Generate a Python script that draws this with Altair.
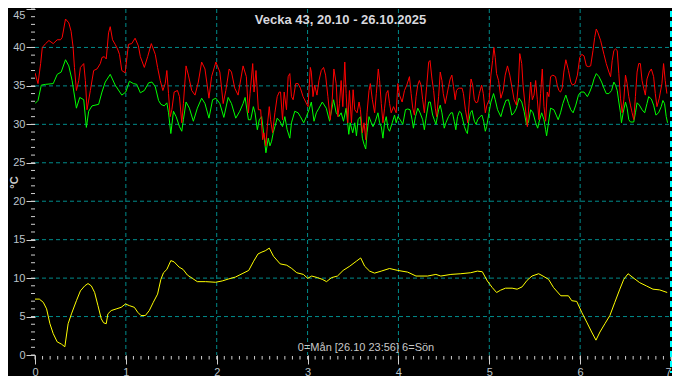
import altair as alt
import pandas as pd

# ---------------- data (hours from Monday 00:00, temperature in degC) ----------------
red_hours = [0.0, 0.79, 1.49, 1.93, 2.8, 3.68, 4.82, 5.87, 6.74, 7.18, 8.06, 8.93, 9.54, 10.07, 10.42, 10.94,
             11.56, 11.99, 12.87, 13.31, 13.74, 14.62, 15.5, 16.37, 17.25, 17.69, 18.3, 18.82, 19.43, 19.87,
             20.48, 21.18, 21.8, 22.32, 22.93, 23.81, 24.69, 25.56, 26.44, 27.31,
             27.83, 28.88, 29.76, 30.72, 31.77, 32.38, 33.08, 33.78, 34.39, 34.83, 35.27, 35.71, 36.15, 36.76,
             37.63, 38.16, 38.77, 39.2, 39.9, 40.52, 41.39, 42.27, 43.14, 44.02, 44.9, 45.95, 46.64, 47.78,
             48.83, 49.71, 50.41, 51.28, 51.9, 52.77, 53.65, 54.09, 54.96, 55.83,
             56.37, 56.81, 57.51, 57.86, 58.38, 59.0, 59.61, 60.13, 60.48, 61.0, 61.36, 61.88, 62.23, 62.76,
             63.37, 63.98, 64.51, 64.86, 65.38, 65.82, 66.43, 66.87, 67.31, 67.75, 68.18, 68.88, 69.5, 70.11,
             70.81, 71.51, 72.12, 72.73, 72.99, 73.43, 73.87, 74.48, 75.01, 75.62, 76.23, 76.76, 77.37, 77.99,
             78.51, 78.95, 79.56, 80.0, 80.43, 80.87, 81.31, 81.83, 82.18, 82.62, 83.06, 83.59,
             84.03, 84.47, 85.08, 85.6, 85.96, 86.48, 86.92, 87.36, 87.71, 88.23, 88.58, 89.11, 89.72, 90.16,
             90.68, 91.03, 91.47, 91.91, 92.34, 92.78, 93.22, 93.66, 94.09, 94.71, 95.41, 95.85, 96.28, 96.98,
             97.6, 98.21, 98.91, 99.35, 99.78, 100.22, 100.66, 101.1, 101.53, 101.97, 102.41, 102.85, 103.46,
             103.99, 104.34, 104.86, 105.3, 105.74, 106.09, 106.61, 107.05, 107.49, 107.84, 108.36, 108.8,
             109.23, 109.67, 110.11, 110.55, 110.99, 111.34, 111.86,
             112.12, 112.82, 113.17, 113.7, 114.31, 114.75, 115.18, 115.62, 116.06, 116.5, 116.93, 117.37,
             117.98, 118.42, 118.95, 119.38, 119.99, 120.43, 120.87, 121.22, 121.57, 121.92, 122.45, 123.06,
             123.67, 124.2, 124.81, 125.42, 125.95, 126.56, 127.17, 127.7, 128.05, 128.57, 128.92, 129.45,
             130.06, 130.5, 130.93, 131.37, 131.81, 132.25, 132.69, 133.12, 133.56, 134.0, 134.44, 134.88,
             135.31, 135.75, 136.19, 136.8, 137.5, 137.94, 138.38, 138.82, 139.25, 139.69, 140.22,
             140.92, 141.53, 141.97, 142.67, 143.28, 143.9, 144.42, 145.03, 145.65, 146.17, 146.78, 147.4,
             147.84, 148.27, 148.71, 149.41, 149.85, 150.29, 150.9, 151.6, 152.04, 152.47, 152.91, 153.35,
             153.79, 154.22, 154.66, 155.1, 155.54, 155.98, 156.41, 156.85, 157.29, 157.73, 158.16, 158.6,
             159.04, 159.48, 159.91, 160.35, 160.79, 161.22, 161.66, 162.27, 162.8, 163.41, 163.85, 164.29,
             164.9, 165.6, 166.04, 166.47, 166.92]
red_temps = [36.7, 35.3, 37.9, 40.0, 40.5, 40.9, 40.5, 41.0, 41.0, 41.3, 43.7, 43.2, 42.1, 40.0, 37.4, 34.4,
             35.7, 37.4, 37.9, 35.7, 31.9, 34.4, 37.0, 37.2, 37.9, 38.7, 38.8, 38.5, 41.9, 42.7,
             41.0, 40.4, 39.8, 39.1, 37.0, 36.7, 40.4, 40.5, 41.2, 40.2,
             38.8, 37.4, 38.8, 40.5, 39.1, 37.4, 35.7, 34.4, 35.3, 37.0, 34.0, 31.0, 31.9, 34.2,
             34.4, 33.6, 30.2, 32.7, 37.6, 36.4, 34.4, 33.8, 35.5, 38.1, 37.2, 33.4, 36.2, 38.1,
             36.8, 32.7, 34.4, 37.2, 36.8, 34.7, 33.8, 35.1, 37.6, 36.2,
             31.5, 34.0, 37.9, 34.2, 37.0, 31.9, 31.9, 28.0, 28.9, 27.2, 29.7, 32.3, 30.6, 28.9,
             31.5, 33.6, 34.2, 34.2, 30.6, 34.2, 31.9, 36.2, 36.6, 33.6, 33.2, 35.3, 35.3, 34.7,
             33.6, 32.9, 32.3, 37.4, 36.8, 33.6, 35.1, 33.8, 35.7, 37.0, 37.4, 36.4, 33.6, 30.6,
             33.2, 37.2, 35.3, 31.0, 32.7, 35.7, 32.3, 38.1, 34.0, 30.2, 34.4, 30.2,
             34.5, 31.9, 31.5, 32.9, 31.9, 28.9, 30.2, 28.0, 31.5, 34.4, 35.3, 33.2, 31.5, 34.0,
             37.2, 35.7, 32.7, 30.2, 32.1, 34.0, 34.4, 32.7, 31.5, 32.3, 31.5, 35.3, 33.8, 32.9,
             34.4, 35.1, 36.2, 34.0, 32.1, 31.2, 33.6, 35.1, 35.7, 35.1, 33.2, 31.5, 34.9,
             38.1, 38.3, 35.9, 34.4, 32.1, 31.0, 33.6, 36.8, 35.7, 34.0, 32.7, 33.8,
             34.9, 35.9, 36.4, 34.9, 33.2, 34.4, 34.7,
             34.7, 34.7, 34.0, 31.9, 30.2, 33.2, 35.9, 35.1, 33.2, 32.8, 32.9, 34.0,
             35.1, 34.0, 31.5, 32.5, 33.2, 36.4, 38.3, 40.0, 38.7, 36.6, 35.7, 33.4,
             34.4, 36.4, 37.6, 36.4, 34.9, 33.2, 32.5, 35.3, 39.2, 37.9, 35.1, 32.5,
             29.7, 32.7, 35.5, 33.2, 33.8, 35.7, 33.2, 30.6, 34.0, 37.2, 32.3, 30.4,
             34.2, 33.6, 36.2, 36.4, 36.2, 35.1, 34.4, 34.2, 34.7, 36.8, 38.4,
             37.0, 35.5, 35.1, 35.3, 36.4, 38.7, 39.1, 38.9, 37.6, 37.5, 37.6, 39.6,
             41.3, 42.4, 41.9, 40.9, 40.0, 39.1, 37.9, 36.8, 36.2, 38.3, 39.6, 39.8,
             39.6, 36.6, 33.4, 31.5, 33.2, 36.4, 35.3, 33.6, 32.5, 31.5, 30.6, 33.6,
             36.8, 37.9, 37.9, 35.7, 34.7, 33.8, 35.9, 36.8, 37.2, 36.2, 34.0, 32.3,
             33.4, 35.3, 37.9, 35.7, 34.0]

green_hours = [0.0, 0.79, 1.67, 2.8, 4.82, 5.87, 6.92, 8.06, 8.93, 9.8, 10.94, 11.82, 12.87, 13.57, 14.18,
               15.06, 16.81, 17.69, 18.56, 19.87, 21.18, 22.93, 23.98, 24.94, 25.99, 26.87,
               27.83, 28.88, 30.02, 30.89, 31.77, 32.64, 33.26, 34.13, 34.83, 35.27, 35.88, 36.58, 37.28,
               38.16, 38.77, 39.2, 39.9, 40.78, 41.83, 42.88, 44.02, 44.9, 45.95, 46.91, 47.78, 48.83,
               49.88, 51.02, 51.9, 53.03, 54.09, 54.96, 55.5,
               56.37, 56.98, 57.68, 58.12, 58.73, 59.26, 59.87, 60.48, 61.0, 61.62, 62.06, 62.5, 62.93,
               63.37, 63.98, 64.68, 65.38, 66.0, 66.61, 67.31, 67.75, 68.62, 69.5, 70.11, 70.98, 71.68,
               72.38, 72.99, 73.7, 74.31, 75.01, 75.89, 76.93, 77.81, 78.86, 79.56, 80.26, 80.87, 81.49,
               82.18, 82.89, 83.24, 83.93,
               84.47, 84.91, 85.34, 85.96, 86.48, 86.92, 87.36, 87.71, 88.23, 88.84, 89.28, 89.9, 90.59,
               91.03, 91.47, 91.91, 92.34, 92.78, 93.22, 93.66, 94.36, 94.97, 95.41, 95.85, 96.46, 97.16,
               97.86, 98.47, 99.08, 99.61, 99.96, 100.49, 101.1, 101.71, 102.41, 102.85, 103.29, 103.99,
               104.42, 105.04, 105.47, 105.91, 106.61, 107.05, 107.49, 108.1, 108.54, 109.23, 109.85,
               110.29, 110.73, 111.16, 111.6,
               112.12, 112.56, 113.0, 113.43, 113.87, 114.22, 114.57, 115.01, 115.45, 116.06, 116.5,
               116.93, 117.55, 118.07, 118.51, 118.95, 119.3, 119.82, 120.43, 121.13, 121.57, 122.18,
               123.06, 123.67, 124.37, 125.07, 125.42, 125.95, 126.56, 127.17, 127.87, 128.57, 129.19,
               129.8, 130.32, 130.93, 131.55, 132.25, 132.78, 133.3, 133.83, 134.44, 134.88, 135.14,
               135.58, 136.19, 137.07, 137.68, 138.2, 138.82, 139.43, 140.22,
               140.92, 141.53, 142.15, 142.85, 143.55, 144.16, 145.03, 145.91, 146.52, 147.22, 147.66,
               148.27, 148.97, 149.67, 150.29, 150.9, 151.6, 152.3, 152.91, 153.35, 153.79, 154.22,
               154.66, 154.92, 155.36, 155.98, 156.41, 156.85, 157.29, 158.16, 158.6, 159.04, 159.65,
               160.35, 161.05, 161.66, 162.1, 162.8, 163.41, 164.02, 164.72, 165.42, 165.86, 166.3,
               166.74, 167.09]
green_temps = [32.7, 33.1, 35.1, 35.2, 35.3, 36.5, 36.8, 38.4, 37.6, 35.7, 32.1, 33.5, 33.2, 29.6, 31.7,
               32.4, 32.6, 34.2, 35.5, 36.5, 35.1, 33.8, 34.2, 35.6, 35.3, 35.2,
               34.1, 34.4, 35.4, 35.5, 34.9, 33.1, 32.6, 32.4, 32.8, 31.5, 28.8, 31.7, 31.0,
               29.7, 29.1, 30.6, 32.9, 32.1, 30.4, 32.1, 33.4, 32.7, 30.8, 33.2, 33.4, 32.7,
               30.9, 33.5, 32.7, 30.8, 31.7, 32.7, 33.5,
               30.6, 30.6, 32.3, 31.5, 29.3, 30.6, 31.0, 28.5, 26.3, 28.2, 27.2, 27.8, 28.9,
               29.7, 30.8, 30.4, 29.7, 31.0, 29.3, 28.2, 30.2, 31.7, 31.5, 31.0, 30.2, 31.0,
               31.9, 32.9, 30.4, 31.5, 32.1, 32.9, 32.1, 30.4, 33.2, 31.5, 31.0, 31.5, 30.4,
               32.1, 28.7, 30.2, 28.9,
               30.2, 28.5, 30.6, 31.0, 28.2, 27.4, 26.8, 28.9, 31.0, 30.2, 29.7, 30.4, 31.5,
               30.2, 29.7, 28.2, 30.2, 31.0, 29.5, 29.1, 30.2, 31.2, 30.2, 31.0, 30.6, 30.0,
               31.9, 32.0, 31.9, 30.6, 29.5, 31.0, 32.1, 31.5, 30.6, 29.3, 30.8, 32.9,
               32.9, 31.2, 30.6, 30.0, 31.9, 32.5, 31.5, 29.5, 30.2, 31.0, 31.5,
               31.5, 30.4, 29.3, 31.0,
               31.7, 31.5, 30.6, 29.7, 29.1, 28.8, 30.4, 31.5, 31.8, 30.4, 30.0,
               30.6, 31.0, 31.2, 30.4, 29.1, 29.7, 31.2, 32.9, 34.0, 33.2, 31.9,
               31.0, 32.1, 33.1, 33.2, 32.5, 31.2, 31.5, 32.1, 33.4, 32.9, 31.7,
               30.0, 30.2, 31.9, 31.5, 30.2, 29.5, 30.6, 31.5, 30.6, 29.3, 28.5,
               30.0, 32.1, 31.9, 31.2, 30.6, 31.5, 32.7, 33.8,
               32.7, 31.9, 31.5, 32.5, 33.8, 34.2, 34.2, 33.6, 34.2, 35.1, 35.9,
               36.6, 36.2, 35.5, 34.7, 34.0, 34.0, 34.4, 35.5, 35.1, 34.4, 32.9,
               31.5, 30.2, 31.5, 32.9, 32.1, 30.6, 30.3, 30.3, 31.5, 32.8, 32.5,
               31.9, 31.5, 32.7, 33.6, 33.3, 32.5, 31.2, 31.5, 32.3, 33.1, 32.7,
               31.0, 30.2]

yellow_hours = [0.0, 1.14, 2.19, 3.06, 3.94, 4.81, 5.86, 7.0, 7.88, 8.75, 9.63, 10.94, 11.99, 13.13, 14.0,
                14.88, 15.75, 16.63, 17.5, 18.11, 18.82, 19.25, 20.13, 21.44, 22.75, 23.89, 24.94, 26.25,
                27.13, 28.0, 29.14, 30.19, 31.24, 32.38, 33.25, 33.95, 34.83, 35.88, 36.75, 38.07, 39.12,
                40.25, 41.57, 42.88, 45.07, 47.69, 49.44, 51.2, 52.95, 54.7, 56.45, 57.76, 58.9, 59.95,
                60.83, 61.88, 63.0, 64.76, 66.5, 67.83, 69.14, 70.89, 72.03, 73.08, 74.65, 75.88, 77.01,
                78.33, 79.9, 81.39, 83.14, 84.89, 86.03, 87.08, 88.39, 89.7, 91.45, 93.64, 95.83, 98.45,
                100.64, 103.7, 105.89, 107.2, 109.85, 112.48, 115.1, 116.85, 118.16, 119.48, 120.79,
                121.93, 122.98, 124.29, 126.04, 127.35, 128.66, 129.98, 131.29, 133.04, 134.18, 135.66,
                136.98, 138.9, 140.91, 141.79, 143.1, 144.41, 145.73, 147.04, 148.18, 149.23, 150.54,
                151.85, 153.16, 154.48, 155.53, 156.66, 157.98, 159.73, 161.48, 163.23, 164.98, 167.0]
yellow_temps = [7.27, 7.27, 6.85, 6.0, 4.07, 2.78, 1.71, 1.41, 1.07, 4.07, 5.35, 7.06, 8.34, 8.99, 9.29,
                8.99, 8.13, 6.42, 4.71, 4.19, 4.07, 5.35, 5.78, 5.99, 6.2, 6.63, 6.42, 6.2,
                5.56, 5.13, 5.13, 5.78, 6.85, 7.92, 9.84, 10.7, 11.13, 12.28, 12.11, 11.43, 11.13,
                10.4, 9.97, 9.54, 9.54, 9.46, 9.63, 9.9, 10.14, 10.57, 11.0, 12.2, 13.14, 13.39,
                13.56, 13.9, 12.84, 11.85, 11.68, 11.25, 10.7, 10.48, 9.97, 10.27, 10.06, 9.84, 9.54,
                10.06, 10.27, 11.0, 11.55, 12.2, 12.62, 11.55, 10.91, 10.65, 10.91, 11.25, 11.0, 10.78,
                10.27, 10.27, 10.48, 10.27, 10.48, 10.57, 10.7, 10.91, 10.83, 9.63, 8.77,
                8.13, 8.43, 8.69, 8.69, 8.56, 8.86, 9.71, 10.27, 10.57, 10.27, 9.84,
                8.77, 7.7, 7.7, 7.06, 6.97, 5.56, 4.28, 2.99, 1.93, 2.99, 4.07,
                5.13, 6.85, 8.56, 9.84, 10.57, 10.06, 9.41, 8.99, 8.56, 8.47, 8.13]

title_text = "Vecka 43, 20.10 - 26.10.2025"
xlabel_text = "0=Mån [26.10 23:56] 6=Sön"
y_title = "°C"
x_ticks = [0, 1, 2, 3, 4, 5, 6, 7]
y_ticks = [0, 5, 10, 15, 20, 25, 30, 35, 40, 45]
x_grid = [1, 2, 3, 4, 5, 6]
y_grid = [5, 10, 15, 20, 25, 30, 35, 40]
x_minor = [k / 12 for k in range(0, 85)]   # every 2 hours
y_minor = list(range(0, 46))
now_day = [7]

# ---------------- layout ----------------
W, H = 636, 346
FONT = "Liberation Sans"
LABEL_COL = "#BCC4CC"
TICK_COL = "#D0D0D0"
GRID_COL = "#008B8B"

xs = alt.Scale(domain=[0, 7], nice=False, zero=False)
ys = alt.Scale(domain=[0, 45], nice=False, zero=False)

xa = alt.Axis(values=x_ticks, tickSize=9, tickColor=TICK_COL, labelColor=LABEL_COL, labelFont=FONT,
              labelFontSize=11, labelPadding=2, domain=False, grid=False, title=None, labelFlush=False,
              labelAlign={"condition": {"test": "datum.value >= 7", "value": "right"}, "value": "center"},
              format="d")
ya = alt.Axis(values=y_ticks, tickSize=9, tickColor=TICK_COL, labelColor=LABEL_COL, labelFont=FONT,
              labelFontSize=11, labelPadding=1, domain=False, grid=False, title=y_title,
              titleColor="#D0D0D0", titleFont=FONT, titleFontSize=11, titleFontWeight="bold",
              titleX=-21, titleY=H / 2, titleAngle=-90, titleAlign="center", titleBaseline="middle",
              labelFlush=False,
              labelBaseline={"condition": {"test": "datum.value >= 45", "value": "top"}, "value": "middle"},
              format="d")


def series_df(hours, temps, name):
    return pd.DataFrame({"h": hours, "v": temps, "s": name})


def line_layer(df, color):
    return alt.Chart(df).transform_calculate(x="datum.h / 24").mark_line(
        color=color, strokeWidth=1, interpolate="linear", clip=True
    ).encode(
        x=alt.X("x:Q", scale=xs, axis=xa),
        y=alt.Y("v:Q", scale=ys, axis=ya),
    )


hgrid = alt.Chart(pd.DataFrame({"v": y_grid})).mark_rule(
    color=GRID_COL, strokeDash=[4, 3], strokeWidth=1
).encode(y=alt.Y("v:Q", scale=ys, axis=ya), x=alt.value(0), x2=alt.value(W))

vgrid = alt.Chart(pd.DataFrame({"x": x_grid})).mark_rule(
    color=GRID_COL, strokeDash=[4, 3], strokeWidth=1
).encode(x=alt.X("x:Q", scale=xs, axis=xa), y=alt.value(0), y2=alt.value(H))

now_line = alt.Chart(pd.DataFrame({"x": now_day})).mark_rule(
    color="#00FFFF", strokeDash=[6, 4], strokeWidth=2
).encode(x=alt.X("x:Q", scale=xs, axis=xa), y=alt.value(2), y2=alt.value(H + 18))

yminor = alt.Chart(pd.DataFrame({"v": y_minor})).mark_rule(
    color=TICK_COL, strokeWidth=1
).encode(y=alt.Y("v:Q", scale=ys, axis=ya), x=alt.value(-4), x2=alt.value(0))

xminor = alt.Chart(pd.DataFrame({"x": x_minor})).mark_rule(
    color=TICK_COL, strokeWidth=1
).encode(x=alt.X("x:Q", scale=xs, axis=xa), y=alt.value(H + 1), y2=alt.value(H + 4.5))

title_mark = alt.Chart(pd.DataFrame({"t": [title_text]})).mark_text(
    font=FONT, fontSize=13, fontWeight="bold", color="#D8D8DE", align="center", baseline="alphabetic"
).encode(text="t:N", x=alt.value(305.5), y=alt.value(14.5))

xlabel_mark = alt.Chart(pd.DataFrame({"t": [xlabel_text]})).mark_text(
    font=FONT, fontSize=11, color="#C8C8C8", align="center", baseline="alphabetic"
).encode(text="t:N", x=alt.value(331), y=alt.value(H - 4))

yellow = line_layer(series_df(yellow_hours, yellow_temps, "yellow"), "#FFFF00")
green = line_layer(series_df(green_hours, green_temps, "green"), "#00FF00")
red = line_layer(series_df(red_hours, red_temps, "red"), "#FF0000")

chart = alt.layer(
    hgrid, vgrid, yminor, xminor, yellow, green, red, now_line, title_mark, xlabel_mark
).properties(
    width=W, height=H,
    autosize=alt.AutoSizeParams(type="none"),
    padding={"left": 27, "top": 1, "right": 1, "bottom": 21},
    background="#000000",
).configure_view(stroke=None)

chart.save("out.html", embed_options={"renderer": "svg", "actions": False})
